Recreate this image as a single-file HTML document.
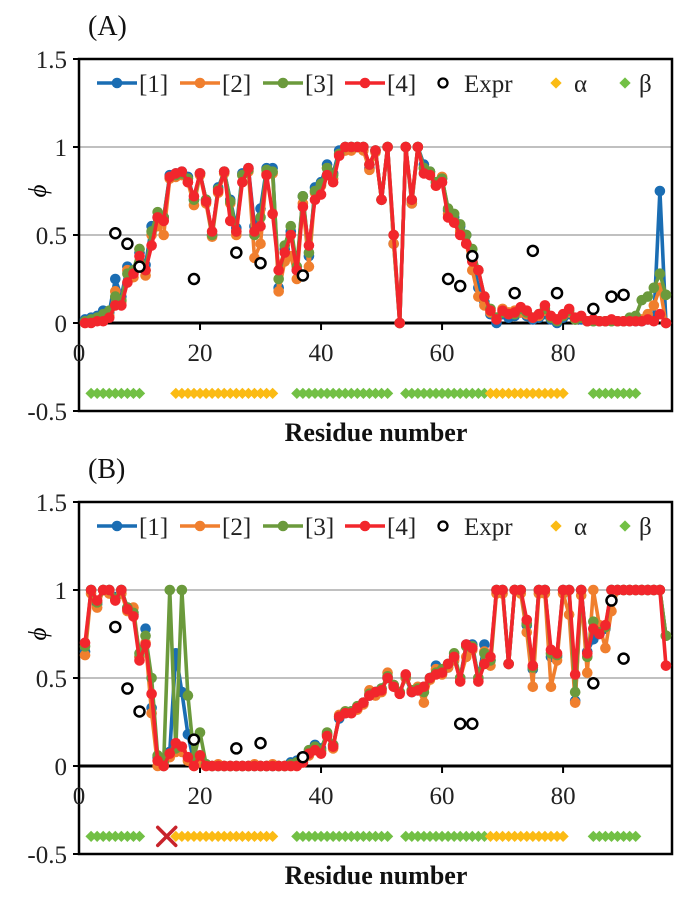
<!DOCTYPE html>
<html><head><meta charset="utf-8">
<style>
html,body{margin:0;padding:0;background:#fff;}
svg{display:block;font-family:"Liberation Serif",serif;}
</style></head>
<body>
<svg id="chart" width="690" height="899" viewBox="0 0 690 899" xmlns="http://www.w3.org/2000/svg"></svg>
<script>
// ---------- Panel A data (residues 1..97) ----------
const a4 = [0,0,0.01,0.01,0.03,0.1,0.1,0.23,0.28,0.38,0.3,0.44,0.6,0.58,0.83,0.85,0.86,0.8,0.72,0.85,0.69,0.52,0.75,0.86,0.58,0.52,0.8,0.88,0.52,0.55,0.84,0.62,0.3,0.4,0.5,0.3,0.66,0.44,0.7,0.73,0.84,0.8,0.95,1,1,1,1,0.9,0.98,0.7,1,0.5,0,1,0.7,1,0.85,0.84,0.78,0.8,0.6,0.57,0.5,0.45,0.35,0.3,0.15,0.07,0.02,0.07,0.05,0.06,0.09,0.07,0.03,0.05,0.1,0.04,0.02,0.05,0.08,0.03,0.04,0.01,0.02,0.01,0.01,0.02,0.01,0.01,0.01,0.01,0.01,0.02,0.01,0.05,0];
const a1 = [0.02,0.03,0.04,0.07,0.06,0.25,0.15,0.32,0.3,0.4,0.33,0.55,0.6,0.6,0.84,0.85,0.86,0.83,0.7,0.85,0.7,0.5,0.77,0.86,0.7,0.54,0.85,0.88,0.55,0.65,0.88,0.88,0.2,0.42,0.52,0.3,0.72,0.38,0.77,0.8,0.9,0.85,0.98,1,1,1,1,0.88,0.98,0.7,1,0.45,0,1,0.68,1,0.9,0.86,0.8,0.82,0.64,0.6,0.55,0.5,0.38,0.2,0.12,0.05,0.0,0.05,0.03,0.04,0.06,0.04,0.02,0.03,0.05,0.02,0.0,0.03,0.05,0.02,0.02,0.01,0.01,0.01,0.01,0.01,0.01,0.01,0.01,0.01,0.01,0.02,0.02,0.75,0];
const a2 = [0,0.01,0.02,0.03,0.04,0.18,0.12,0.3,0.26,0.42,0.27,0.5,0.55,0.5,0.82,0.83,0.84,0.8,0.67,0.84,0.68,0.49,0.74,0.85,0.68,0.5,0.84,0.86,0.37,0.45,0.85,0.85,0.18,0.35,0.38,0.25,0.68,0.32,0.74,0.78,0.88,0.82,0.96,0.98,0.98,1,0.98,0.87,0.97,0.7,1,0.45,0,1,0.68,1,0.88,0.85,0.78,0.83,0.62,0.58,0.52,0.45,0.3,0.15,0.1,0.06,0.03,0.08,0.06,0.07,0.06,0.05,0.03,0.04,0.07,0.03,0.02,0.04,0.06,0.02,0.03,0.01,0.01,0.01,0.01,0.01,0.01,0.01,0.01,0.02,0.02,0.05,0.1,0.2,0];
const a3 = [0.01,0.02,0.03,0.05,0.07,0.15,0.13,0.28,0.3,0.42,0.3,0.52,0.63,0.6,0.83,0.84,0.85,0.82,0.7,0.85,0.7,0.5,0.76,0.86,0.69,0.52,0.84,0.87,0.5,0.6,0.87,0.86,0.25,0.44,0.55,0.32,0.72,0.4,0.75,0.79,0.88,0.84,0.96,1,1,1,1,0.9,0.98,0.7,1,0.5,0,1,0.7,1,0.88,0.86,0.8,0.82,0.65,0.62,0.56,0.5,0.42,0.3,0.15,0.08,0.03,0.06,0.05,0.05,0.08,0.06,0.03,0.05,0.08,0.03,0.01,0.04,0.07,0.02,0.03,0.01,0.01,0.01,0.01,0.01,0.01,0.01,0.03,0.04,0.13,0.15,0.2,0.28,0.16];
const exprAx = [6,8,10,19,26,30,37,61,63,65,72,75,79,85,88,90];
const exprAy = [0.51,0.45,0.32,0.25,0.4,0.34,0.27,0.25,0.21,0.38,0.17,0.41,0.17,0.08,0.15,0.16];

// ---------- Panel B data ----------
const b4 = [0.7,1,0.94,1,1,0.94,1,0.89,0.85,0.6,0.69,0.41,0.03,0,0.07,0.13,0.11,0.05,0,0.06,0,0,0,0,0,0,0,0,0,0,0,0,0,0,0,0,0.02,0.07,0.09,0.07,0.17,0.11,0.28,0.3,0.3,0.33,0.36,0.4,0.42,0.43,0.5,0.45,0.41,0.52,0.42,0.43,0.45,0.5,0.52,0.53,0.58,0.62,0.48,0.69,0.67,0.48,0.58,0.62,1,1,0.58,1,1,0.83,0.57,1,1,0.66,0.64,1,1,0.52,1,0.64,0.78,0.75,0.8,1,1,1,1,1,1,1,1,1,0.57];
const b1 = [0.65,1,0.92,1,1,0.96,1,0.9,0.86,0.62,0.78,0.33,0.05,0,0.08,0.64,0.42,0.18,0.02,0.06,0.01,0,0,0,0,0,0,0,0,0,0,0,0,0,0.02,0.03,0.04,0.08,0.12,0.1,0.18,0.12,0.27,0.3,0.31,0.33,0.36,0.4,0.42,0.44,0.5,0.46,0.42,0.5,0.42,0.43,0.45,0.5,0.57,0.53,0.56,0.62,0.5,0.69,0.69,0.5,0.69,0.6,1,1,0.58,1,1,0.8,0.55,1,1,0.62,0.62,1,1,0.37,1,0.65,0.72,0.75,0.78,1,1,1,1,1,1,1,1,1,0.74];
const b2 = [0.63,0.98,0.9,1,0.98,0.95,0.98,0.88,0.9,0.62,0.7,0.3,0,0,0.05,0.08,0.08,0.03,0,0.02,0,0,0.01,0,0,0,0,0,0.01,0,0,0.01,0,0,0,0,0.02,0.06,0.1,0.08,0.18,0.1,0.29,0.31,0.3,0.32,0.35,0.43,0.4,0.42,0.53,0.46,0.42,0.5,0.43,0.45,0.36,0.49,0.55,0.52,0.56,0.6,0.5,0.62,0.66,0.5,0.65,0.57,0.98,0.98,0.58,1,0.98,0.76,0.45,0.98,0.98,0.45,0.6,0.98,0.86,0.36,0.97,0.53,1,0.8,0.67,0.88,1,1,1,1,1,1,1,1,0.74];
const b3 = [0.68,1,0.93,1,1,0.95,1,0.9,0.87,0.64,0.74,0.5,0.06,0.02,1,0.1,1,0.4,0.05,0.19,0.01,0,0,0,0,0,0,0,0,0,0,0,0,0,0.01,0.02,0.03,0.09,0.11,0.09,0.19,0.12,0.28,0.31,0.31,0.34,0.36,0.41,0.42,0.44,0.51,0.46,0.42,0.51,0.43,0.44,0.42,0.5,0.53,0.55,0.58,0.64,0.5,0.68,0.68,0.5,0.64,0.6,1,1,0.58,1,1,0.81,0.56,1,1,0.64,0.63,1,1,0.42,1,0.62,0.82,0.76,0.79,1,1,1,1,1,1,1,1,1,0.74];
const exprBx = [6,8,10,19,26,30,37,63,65,85,88,90];
const exprBy = [0.79,0.44,0.31,0.15,0.1,0.13,0.05,0.24,0.24,0.47,0.94,0.61];

// ---------- Secondary structure (residue ranges) ----------
const ssType = ['b','a','b','b','a','b'];
const ssStart = [2,16,36,54,68,85];
const ssEnd = [10,32,51,67,80,92];

const NS='http://www.w3.org/2000/svg';
const svg=document.getElementById('chart');
const COL={c1:'#1a6db3',c2:'#f07f2e',c3:'#6b9a3c',c4:'#f2262c',a:'#fbbb14',b:'#72c045'};
function mk(tag,attrs,parent){const e=document.createElementNS(NS,tag);for(const k in attrs)e.setAttribute(k,attrs[k]);(parent||svg).appendChild(e);return e;}
function txt(s,attrs,parent){const e=mk('text',attrs,parent);e.textContent=s;return e;}

const X0=79, X1=672, XMAX=98;
function xs(v){return X0+(X1-X0)*v/XMAX;}

function panel(label,top,series,ex,ey){
  const y1=top, y0=top+352;
  const ys=v=>y0-(v+0.5)*176;
  const g=mk('g',{});
  
  
  txt('('+label+')',{x:88,y:top-24,'font-size':28,fill:'#111'},g);
  [0.5,1].forEach(v=>{const l=mk('line',{x1:X0,x2:X1,y1:ys(v),y2:ys(v),stroke:'#9a9a9a','stroke-width':1.3},g);});
  [1.5,1,0.5,0,-0.5].forEach(v=>{const t=txt(String(v),{x:67,y:ys(v)+9,'font-size':25,'text-anchor':'end',fill:'#222'},g);
    mk('line',{x1:X0-6,x2:X0,y1:ys(v),y2:ys(v),stroke:'#000','stroke-width':2},g);});
  const yt=txt('ϕ',{x:38,y:ys(0.75)+8,'font-size':25,'font-style':'italic','text-anchor':'middle',transform:'rotate(-90 38 '+(ys(0.75))+')'},g);
  
  const fr=mk('rect',{x:X0,y:y1,width:X1-X0,height:y0-y1,fill:'none',stroke:'#000','stroke-width':2.5},g);
  
  mk('line',{x1:X0,x2:X1,y1:ys(0),y2:ys(0),stroke:'#000','stroke-width':3},g);
  [0,20,40,60,80].forEach(v=>{mk('line',{x1:xs(v),x2:xs(v),y1:ys(0),y2:ys(0)+7,stroke:'#000','stroke-width':2},g);
    const t=txt(String(v),{x:xs(v),y:ys(0)+38,'font-size':25,'text-anchor':'middle',fill:'#222'},g);});
  for(let i=0;i<ssType.length;i++){
    for(let r=ssStart[i];r<=ssEnd[i];r++){
      const d=mk('rect',{x:xs(r)-4,y:ys(-0.4)-4,width:8,height:8,fill:COL[ssType[i]],transform:'rotate(45 '+xs(r)+' '+ys(-0.4)+')'},g);
      
      
    }
  }
  const cols=[COL.c1,COL.c2,COL.c3,COL.c4];
  series.forEach((arr,si)=>{
    const sg=mk('g',{},g);
    
    
    const pts=arr.map((v,i)=>xs(i+1)+','+ys(v)).join(' ');
    mk('polyline',{points:pts,fill:'none',stroke:cols[si],'stroke-width':3.6,'stroke-linejoin':'round'},sg);
    arr.forEach((v,i)=>{const c=mk('circle',{cx:xs(i+1),cy:ys(v),r:5.3,fill:cols[si]},sg);});
  });
  ex.forEach((x,i)=>{const c=mk('circle',{cx:xs(x),cy:ys(ey[i]),r:5,fill:'#fff',stroke:'#000','stroke-width':2.5},g);});
  const ly=top+24;
  const lg=mk('g',{},g);
  
  
  const lx=[97,180,263,345];
  cols.forEach((c,i)=>{
    mk('line',{x1:lx[i],x2:lx[i]+40,y1:ly,y2:ly,stroke:c,'stroke-width':3.5},lg);
    mk('circle',{cx:lx[i]+20,cy:ly,r:5.3,fill:c},lg);
    const t=txt('['+(i+1)+']',{x:lx[i]+42,y:ly+9,'font-size':25,fill:'#222'},lg);
  });
  mk('circle',{cx:443,cy:ly,r:4.5,fill:'#fff',stroke:'#000','stroke-width':2.3},lg);
  txt('Expr',{x:464,y:ly+9,'font-size':25,fill:'#222'},lg);
  mk('rect',{x:552,y:ly-4,width:8,height:8,fill:COL.a,transform:'rotate(45 556 '+ly+')'},lg);
  txt('α',{x:574,y:ly+9,'font-size':25,fill:'#222'},lg);
  mk('rect',{x:621,y:ly-4,width:8,height:8,fill:COL.b,transform:'rotate(45 625 '+ly+')'},lg);
  txt('β',{x:639,y:ly+9,'font-size':25,fill:'#222'},lg);
  const xt=txt('Residue number',{x:376,y:y0+30,'font-size':26,'font-weight':'bold','text-anchor':'middle',fill:'#111'},g);
  
  return ys;
}
panel('A',59,[a1,a2,a3,a4],exprAx,exprAy);
const ysB=panel('B',502,[b1,b2,b3,b4],exprBx,exprBy);
const xg=mk('g',{stroke:'#c8232b','stroke-width':3.5,'stroke-linecap':'round'});


const cx=xs(14.5), cy=ysB(-0.4);
mk('line',{x1:cx-9,y1:cy-9,x2:cx+9,y2:cy+9},xg);
mk('line',{x1:cx-9,y1:cy+9,x2:cx+9,y2:cy-9},xg);
</script>
</body></html>
